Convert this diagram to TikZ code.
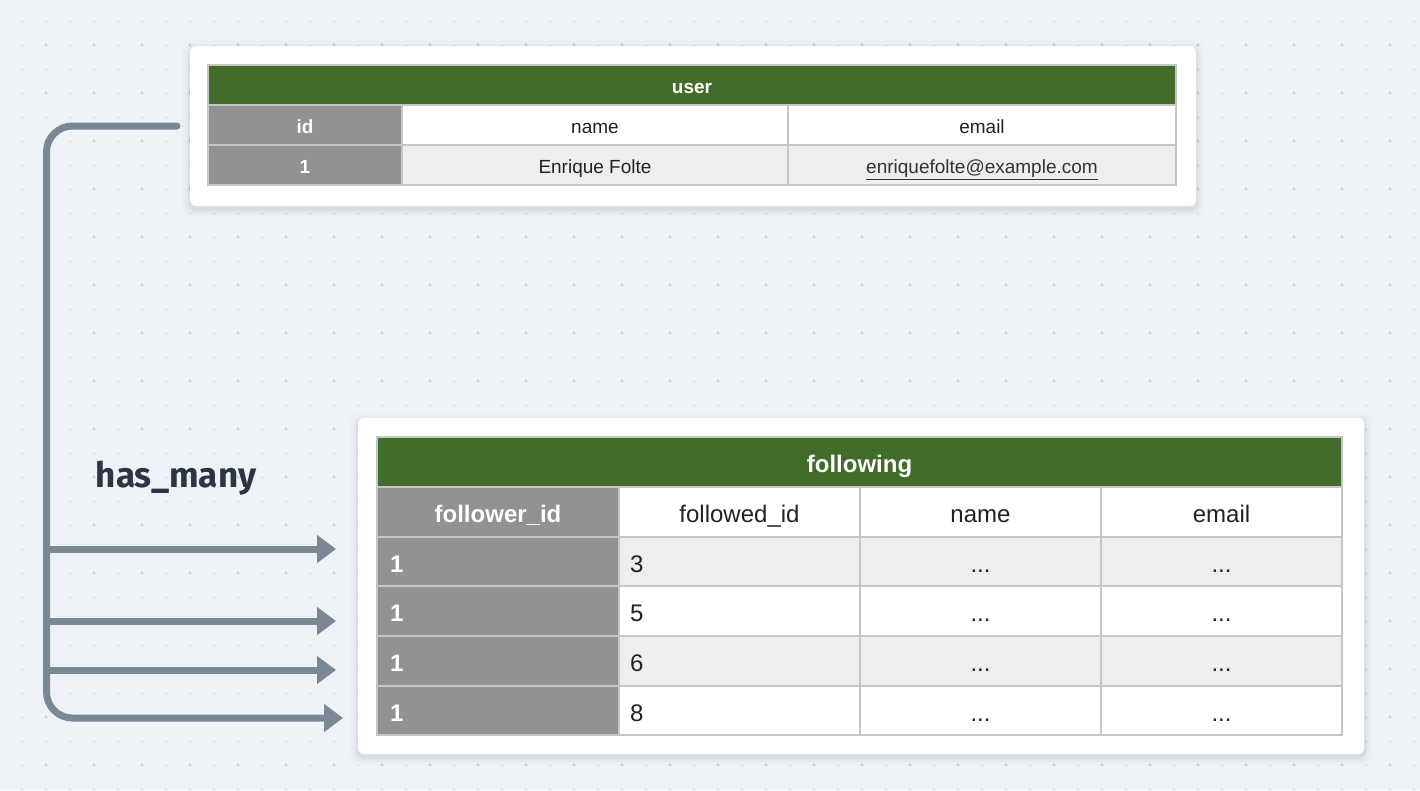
\documentclass[tikz,border=0pt]{standalone}
\usepackage{fontspec}
\setmainfont{Liberation Sans}
\newfontfamily\labelfont{Fira Sans}
\usetikzlibrary{arrows.meta}
\definecolor{bgc}{HTML}{EEF2F6}
\definecolor{dotc}{HTML}{C6CED8}
\definecolor{hdr}{HTML}{436B2A}
\definecolor{keyc}{HTML}{929292}
\definecolor{rowc}{HTML}{EEEEEE}
\definecolor{gridc}{HTML}{C6C6C6}
\definecolor{linkc}{HTML}{7A8795}
\definecolor{labc}{HTML}{2B3642}
\definecolor{txtc}{HTML}{222222}
\tikzset{
  card/.style={fill=white, rounded corners=6pt, inner sep=0pt, draw=none},
  cell/.style={draw=gridc, line width=1.6pt, inner sep=0pt, text=txtc, anchor=center},
  smallt/.style={font=\fontsize{19}{23}\selectfont, text height=17.5pt, text depth=0pt},
  bigt/.style={font=\fontsize{24}{29}\selectfont, text height=21pt, text depth=0pt},
  smallb/.style={font=\fontsize{19}{23}\selectfont\bfseries, text=white, text height=17.5pt, text depth=0pt},
  bigb/.style={font=\fontsize{24}{29}\selectfont\bfseries, text=white, text height=21pt, text depth=0pt},
  link/.style={draw=linkc, line width=7pt, line cap=round},
  tip/.style={-{Triangle[length=19pt, width=27pt]}},
}
\begin{document}
\begin{tikzpicture}[x=1pt, y=-1pt]
\useasboundingbox (0,0) rectangle (1420,790);
\fill[bgc] (0,0) rectangle (1420,790);
% dotted grid
\foreach \i in {0,...,58} \foreach \j in {0,...,32} {\fill[dotc] (22+24*\i, 21.5+24*\j) circle[radius=0.9pt];}
\foreach \i in {0,...,28} \foreach \j in {0,...,15} {\fill[dotc] (46+48*\i, 45+48*\j) circle[radius=1.7pt];}

% card shadows
\foreach \e/\o in {8/0.012, 5/0.018, 3/0.025, 1.5/0.03} {
  \fill[black, opacity=\o, rounded corners=8pt] (190-\e, 46-\e+3) rectangle (1196+\e, 206+\e+3);
  \fill[black, opacity=\o, rounded corners=8pt] (358-\e, 418-\e+3) rectangle (1364+\e, 754+\e+3);
}
% cards
\node[card, minimum width=1006pt, minimum height=160pt] (usercard) at (693,126) {};
\node[card, minimum width=1006pt, minimum height=336pt] (followcard) at (861,586) {};

% user table
\node[cell, fill=hdr, minimum width=968pt, minimum height=40pt, smallb] (uhead) at (692,85) {user};
\node[cell, fill=keyc, minimum width=194pt, minimum height=40pt, smallb] (uid) at (305,125) {id};
\node[cell, fill=white, minimum width=386pt, minimum height=40pt, smallt] (uname) at (595,125) {name};
\node[cell, fill=white, minimum width=388pt, minimum height=40pt, smallt] (uemail) at (982,125) {email};
\node[cell, fill=keyc, minimum width=194pt, minimum height=40pt, smallb] (uid1) at (305,165) {1};
\node[cell, fill=rowc, minimum width=386pt, minimum height=40pt, smallt] (uname1) at (595,165) {Enrique Folte};
\node[cell, fill=rowc, minimum width=388pt, minimum height=40pt, smallt, text=black!80] (uemail1) at (982,165) {\underline{enriquefolte@example.com}};

% following table
\node[cell, fill=hdr, minimum width=965pt, minimum height=50pt, bigb] (fhead) at (859.5,462) {following};
\node[cell, fill=keyc, minimum width=242pt, minimum height=50pt, bigb] (ffid) at (498,512) {follower\_id};
\node[cell, fill=white, minimum width=241pt, minimum height=50pt, bigt] (fdid) at (739.5,512) {followed\_id};
\node[cell, fill=white, minimum width=241pt, minimum height=50pt, bigt] (fname) at (980.5,512) {name};
\node[cell, fill=white, minimum width=241pt, minimum height=50pt, bigt] (femail) at (1221.5,512) {email};
\foreach \r/\y/\v/\f in {1/561.5/3/rowc, 2/611/5/white, 3/661/6/rowc, 4/710.5/8/white} {
  \node[cell, fill=keyc, minimum width=242pt, minimum height=49.5pt, bigb] (k\r) at (498,\y) {};
  \node[bigb, anchor=west, inner sep=0pt] (k\r t) at (390,\y) {1};
  \node[cell, fill=\f, minimum width=241pt, minimum height=49.5pt, bigt] (d\r) at (739.5,\y) {};
  \node[bigt, anchor=west, inner sep=0pt, text=txtc] (d\r t) at (630,\y) {\v};
  \node[cell, fill=\f, minimum width=241pt, minimum height=49.5pt, bigt] (n\r) at (980.5,\y) {...};
  \node[cell, fill=\f, minimum width=241pt, minimum height=49.5pt, bigt] (e\r) at (1221.5,\y) {...};
}

% label
\node[font=\labelfont\bfseries\fontsize{35}{40}\selectfont, text=labc, anchor=center] (hm) at (176,478) {has\_many};

% connectors
\coordinate (src) at (177,126);
\coordinate (vx) at (46.5,0);
\coordinate (a1) at (336,549);
\coordinate (a2) at (336,621);
\coordinate (a3) at (336,670);
\coordinate (a4) at (343,718);
\draw[link, tip, rounded corners=26pt] (src) -- (src -| vx) -- (a4 -| vx) -- (a4);
\draw[link, tip, line cap=butt] (a1 -| vx) -- (a1);
\draw[link, tip, line cap=butt] (a2 -| vx) -- (a2);
\draw[link, tip, line cap=butt] (a3 -| vx) -- (a3);
\end{tikzpicture}
\end{document}
